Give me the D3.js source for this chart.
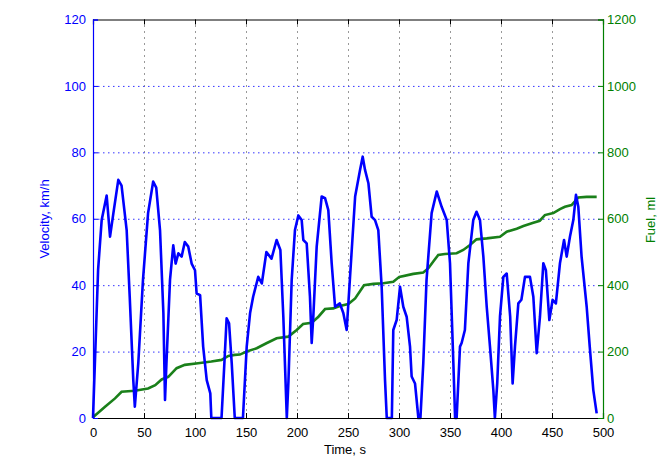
<!DOCTYPE html>
<html>
<head>
<meta charset="utf-8">
<script src="https://cdn.jsdelivr.net/npm/d3@7"></script>
<style>
  body { margin: 0; background: #fff; }
  text { font-family: "Liberation Sans", Arial, sans-serif; }
</style>
</head>
<body>
<svg></svg>
<script>
// velocity trace (time s, km/h)
let velTime = [0, 5, 8.5, 13.4, 16.7, 20, 24.8, 28, 33, 36, 39.5, 41, 44.4, 49, 54, 59, 62, 65.7, 69, 70.6, 72, 75.5, 78.7, 81, 83.7, 86.9, 90, 93.4, 96.7, 100, 101.6, 105, 108, 111.5, 115, 116, 126, 128.8, 131, 133.4, 136, 139, 147, 150.7, 154, 157, 162, 165.5, 170, 175, 180, 183.7, 186.6, 190, 191.6, 194.8, 198, 201.3, 204.6, 206.2, 209.5, 212.7, 214.4, 216, 219.3, 224.2, 227.5, 230.7, 234, 237.3, 242, 245.4, 248.7, 252, 257, 261.8, 264.4, 266.7, 270, 273.2, 276.5, 279.7, 283, 286.3, 288, 293, 294.4, 297.7, 301, 304.2, 307.5, 310.8, 312.4, 315.7, 319, 321, 323.8, 327, 332, 337, 341.8, 346.8, 350, 353.3, 355, 356.5, 359.8, 361.4, 364.6, 368, 372.8, 376, 379.4, 382.7, 386, 389.2, 392.5, 394, 396.3, 399, 402.3, 405.6, 409, 411.4, 413.7, 417, 420, 423.5, 428.4, 431.7, 435, 438.2, 441.5, 444, 447.4, 450.6, 453.8, 457.8, 461.8, 464.4, 467.6, 470.9, 473.5, 475.8, 479, 484, 487, 490.5, 493.8]
let velValue = [0, 44.6, 59.6, 67, 54.6, 61.7, 71.7, 70, 56.6, 36.5, 11.4, 3.4, 16.5, 41.6, 61.7, 71.2, 69.4, 56.6, 31.6, 5.4, 16.5, 41.6, 52, 46.5, 49.6, 48.6, 53, 51.6, 46.5, 44.5, 37.5, 37, 21.5, 11.4, 7.4, 0, 0, 16.5, 30, 28.5, 16.5, 0, 0, 21.5, 31.6, 36.5, 42.5, 40.5, 50, 48, 53.6, 50.6, 30.5, 0, 11, 41.6, 56.6, 61, 59.6, 53.6, 52.6, 36.5, 22.6, 30.6, 51.6, 66.7, 66.2, 62.6, 46.6, 33.5, 34.5, 31.6, 26.5, 42.5, 66.7, 74.7, 78.7, 74.7, 70.7, 60.6, 59.6, 56.6, 39.5, 11.4, 0, 0, 26.5, 29.5, 39.5, 33.5, 30.5, 21.5, 12.5, 10.4, 0, 0, 16.5, 41.6, 61.7, 68.2, 63.6, 59.6, 46.6, 16.5, 0, 0, 21.5, 22.6, 26.5, 46.6, 59.6, 62.1, 59.6, 48.6, 33.5, 21.5, 8.4, 0, 10.4, 30.5, 42.5, 43.5, 30.5, 10.4, 21.5, 34.5, 35.6, 42.5, 42.5, 36.5, 19.5, 30.5, 46.6, 44.5, 29.5, 35.6, 34.5, 46.6, 53.6, 48.6, 54.6, 59.6, 67.2, 63.6, 48.6, 33.5, 21.5, 8.4, 1.4]

// cumulative fuel (time s, ml)
let fuelTime = [0, 11.8, 21.6, 28, 41, 54, 61, 67.3, 73.8, 82, 90, 103, 116, 126, 132.7, 139, 144, 150.7, 160.5, 170, 180, 191.5, 199.7, 206, 214.4, 221, 227.5, 235.6, 242, 250.3, 257, 265.7, 275, 284.6, 294.4, 300.3, 314, 323.8, 328.8, 333.6, 338.5, 345, 356.5, 363, 369.6, 376, 386, 399, 405.6, 415.4, 422, 431.7, 438, 443, 451.3, 457.8, 462.7, 469.2, 475.8, 484, 493.8]
let fuelValue = [2, 34, 59, 79, 82, 89, 99, 116, 124, 150, 160, 165, 170, 175, 187, 190, 191, 200, 210, 225, 240, 245, 265, 283, 287, 305, 328, 330, 337, 343, 360, 400, 404, 406, 410, 425, 434, 438, 451, 471, 491, 494, 496, 506, 521, 538, 541, 546, 561, 570, 578, 588, 594, 611, 617, 629, 636, 641, 664, 666, 666]

let xTicks = [0, 50, 100, 150, 200, 250, 300, 350, 400, 450, 500]
let velTicks = [0, 20, 40, 60, 80, 100, 120]
let fuelTicks = [0, 200, 400, 600, 800, 1000, 1200]

let w = 657
let h = 457
let pLeft = 93, pRight = 603, pTop = 19.5, pBottom = 418

let blue = '#0000ff'
let green = '#007f00'

let svg = d3.select('svg')
svg.attr('width', w).attr('height', h)

let xScale = d3.scaleLinear().domain([0, 500]).range([pLeft, pRight])
let yVel = d3.scaleLinear().domain([0, 120]).range([pBottom, pTop])
let yFuel = d3.scaleLinear().domain([0, 1200]).range([pBottom, pTop])

// grid lines
svg.append('g')
   .selectAll('line')
   .data(xTicks.slice(1, -1))
   .enter()
   .append('line')
   .attr('x1', d => xScale(d) + 0.5).attr('x2', d => xScale(d) + 0.5)
   .attr('y1', pTop).attr('y2', pBottom)
   .attr('stroke', '#333')
   .attr('stroke-dasharray', '1,5')

svg.append('g')
   .selectAll('line')
   .data(velTicks.slice(1, -1))
   .enter()
   .append('line')
   .attr('x1', pLeft).attr('x2', pRight)
   .attr('y1', d => yVel(d) + 0.5).attr('y2', d => yVel(d) + 0.5)
   .attr('stroke', '#3333ff')
   .attr('stroke-dasharray', '1.5,3.5')

// lines
let velLine = d3.line().x((d, i) => xScale(velTime[i])).y(d => yVel(d))
let fuelLine = d3.line().x((d, i) => xScale(fuelTime[i])).y(d => yFuel(d))

svg.append('path')
   .datum(fuelValue)
   .attr('d', fuelLine)
   .attr('fill', 'none')
   .attr('stroke', '#1a801a')
   .attr('stroke-width', 2.6)

svg.append('path')
   .datum(velValue)
   .attr('d', velLine)
   .attr('fill', 'none')
   .attr('stroke', blue)
   .attr('stroke-width', 2.6)
   .attr('stroke-linejoin', 'round')

// axes (matlab style: ticks point inside)
let xBottom = d3.axisBottom(xScale).tickValues(xTicks).tickSize(-5).tickPadding(10)
let gx = svg.append('g')
   .attr('transform', 'translate(0,' + pBottom + ')')
   .call(xBottom)
gx.selectAll('text').style('font-size', '13px').attr('fill', '#000')

let xTop = d3.axisTop(xScale).tickValues(xTicks).tickSize(-5).tickFormat('')
svg.append('g')
   .attr('transform', 'translate(0,' + pTop + ')')
   .call(xTop)

let yLeft = d3.axisLeft(yVel).tickValues(velTicks).tickSize(-5).tickPadding(7)
let gl = svg.append('g')
   .attr('transform', 'translate(' + pLeft + ',0)')
   .call(yLeft)
gl.selectAll('path, line').attr('stroke', blue)
gl.selectAll('text').style('font-size', '13px').attr('fill', blue)

let yRight = d3.axisRight(yFuel).tickValues(fuelTicks).tickSize(-5).tickPadding(4)
   .tickFormat(d3.format('d'))
let gr = svg.append('g')
   .attr('transform', 'translate(' + pRight + ',0)')
   .call(yRight)
gr.selectAll('path, line').attr('stroke', green)
gr.selectAll('text').style('font-size', '13px').attr('fill', green)

svg.selectAll('.domain').attr('stroke-width', 1.2)

// axis titles
svg.append('text')
   .attr('x', 345).attr('y', 454)
   .attr('text-anchor', 'middle')
   .style('font-size', '13px')
   .text('Time, s')

svg.append('text')
   .attr('transform', 'translate(49,219) rotate(-90)')
   .attr('text-anchor', 'middle')
   .style('font-size', '13px')
   .attr('fill', blue)
   .text('Velocity, km/h')

svg.append('text')
   .attr('transform', 'translate(655,220) rotate(-90)')
   .attr('text-anchor', 'middle')
   .style('font-size', '13px')
   .attr('fill', green)
   .text('Fuel, ml')
</script>
</body>
</html>
